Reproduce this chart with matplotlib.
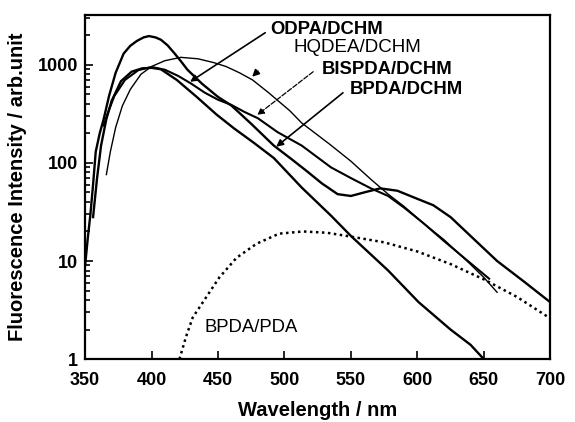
import numpy as np
import matplotlib
matplotlib.use('Agg')
import matplotlib.pyplot as plt

plt.rcParams['font.family'] = ['Liberation Sans', 'DejaVu Sans']

# 荧光光谱数据 (波长 nm, 强度 arb.unit)
wl_bpda_dchm = [350, 352, 354, 356, 358, 361, 364, 368, 373, 379, 384, 389, 394, 398, 403, 407,
                412, 417, 422, 427, 438, 450, 460, 475, 492, 505, 517, 528, 540, 550, 560,
                572, 585, 600, 612, 625, 640, 660, 680, 700]
int_bpda_dchm = [9, 17, 30, 60, 130, 200, 280, 480, 830, 1300, 1560, 1750, 1900, 1960, 1900, 1800,
                 1580, 1320, 1090, 890, 640, 470, 385, 250, 150, 110, 82, 62, 48, 46, 50,
                 55, 52, 43, 37, 28, 18, 10, 6.2, 3.8]

wl_odpa = [356, 359, 362, 366, 370, 377, 385, 393, 400, 407, 419, 434, 449, 462, 477,
           492, 513, 535, 550, 578, 601, 625, 640, 650]
int_odpa = [28, 70, 150, 280, 430, 680, 850, 920, 930, 900, 700, 470, 310, 225, 160,
            112, 56, 29, 18, 8, 3.8, 2.0, 1.4, 1.0]

wl_bispda = [364, 367, 372, 380, 390, 400, 410, 420, 430, 440, 450, 460, 470, 480, 495,
             513, 535, 550, 565, 578, 590, 605, 620, 638, 654]
int_bispda = [240, 320, 480, 700, 880, 950, 890, 770, 640, 520, 440, 390, 330, 285, 205,
              150, 90, 70, 55, 46, 35, 24, 16, 10, 6.6]

wl_hqdea = [366, 369, 373, 378, 384, 392, 400, 410, 422, 435, 447, 456, 466, 476, 488,
            504, 513, 534, 550, 565, 578, 590, 605, 620, 638, 650, 660]
int_hqdea = [76, 130, 230, 380, 560, 800, 960, 1100, 1190, 1150, 1050, 960, 830, 700, 520,
             340, 255, 155, 104, 68, 48, 36, 24, 16.5, 9.8, 6.8, 4.8]

wl_bpda_pda = [421, 426, 431, 441, 451, 464, 479, 496, 514, 532, 547, 575, 600, 625, 650,
               675, 700]
int_bpda_pda = [1.0, 1.7, 2.66, 4.25, 6.8, 10.8, 15, 19, 20, 19.4, 18, 15.5, 12.5, 9.3, 6.5,
                4.3, 2.6]

x_ticks = [350, 400, 450, 500, 550, 600, 650, 700]
y_ticks = [1, 10, 100, 1000]
y_tick_labels = ['1', '10', '100', '1000']

fig = plt.figure(figsize=(5.75, 4.22), dpi=100)
ax = fig.add_axes([0.148, 0.149, 0.809, 0.815])

ax.plot(wl_bpda_dchm, int_bpda_dchm, color='k', lw=1.7)
ax.plot(wl_odpa, int_odpa, color='k', lw=1.7)
ax.plot(wl_bispda, int_bispda, color='k', lw=1.5)
ax.plot(wl_hqdea, int_hqdea, color='k', lw=1.0)
ax.plot(wl_bpda_pda, int_bpda_pda, color='k', lw=1.8, linestyle=(0, (1, 1.4)))

ax.set_yscale('log')
ax.set_xlim(350, 700)
ax.set_ylim(1, 3200)
ax.set_xticks(x_ticks)
ax.set_yticks(y_ticks)
ax.set_yticklabels(y_tick_labels)
ax.minorticks_on()
ax.xaxis.set_minor_locator(matplotlib.ticker.NullLocator())
ax.tick_params(which='both', direction='in', top=False, right=False, width=1.2)
ax.tick_params(which='major', length=6)
ax.tick_params(which='minor', length=3.5)
ax.tick_params(axis='x', pad=9)
ax.tick_params(axis='y', pad=5)
for lab in ax.get_xticklabels() + ax.get_yticklabels():
    lab.set_fontsize(13)
    lab.set_fontweight('bold')
for sp in ax.spines.values():
    sp.set_linewidth(1.6)

ax.set_xlabel('Wavelength / nm', fontsize=14.5, fontweight='bold', labelpad=9)
ax.set_ylabel('Fluorescence Intensity / arb.unit', fontsize=14.5, fontweight='bold', labelpad=8)

# 标签和箭头
arrow = dict(arrowstyle='-|>', color='k', lw=1.2, mutation_scale=10, shrinkA=0, shrinkB=0)
ax.text(489, 2280, 'ODPA/DCHM', fontsize=13.3, fontweight='bold', va='center')
ax.annotate('', xy=(429, 671), xytext=(485.5, 2120), arrowprops=arrow)

ax.text(506.5, 1490, 'HQDEA/DCHM', fontsize=13.5, va='center')
ax.annotate('', xy=(475.7, 755), xytext=(480, 860), arrowprops=arrow)

ax.text(528, 890, 'BISPDA/DCHM', fontsize=13.3, fontweight='bold', va='center')
ax.annotate('', xy=(479.5, 308), xytext=(521.6, 849),
            arrowprops=dict(arrow, lw=0.9, linestyle=(0, (4, 1.5))))

ax.text(549.5, 555, 'BPDA/DCHM', fontsize=13.3, fontweight='bold', va='center')
ax.annotate('', xy=(493.8, 146), xytext=(544, 518), arrowprops=arrow)

ax.text(440, 2.12, 'BPDA/PDA', fontsize=13.3, va='center')

fig.savefig('out.png', dpi=100)
